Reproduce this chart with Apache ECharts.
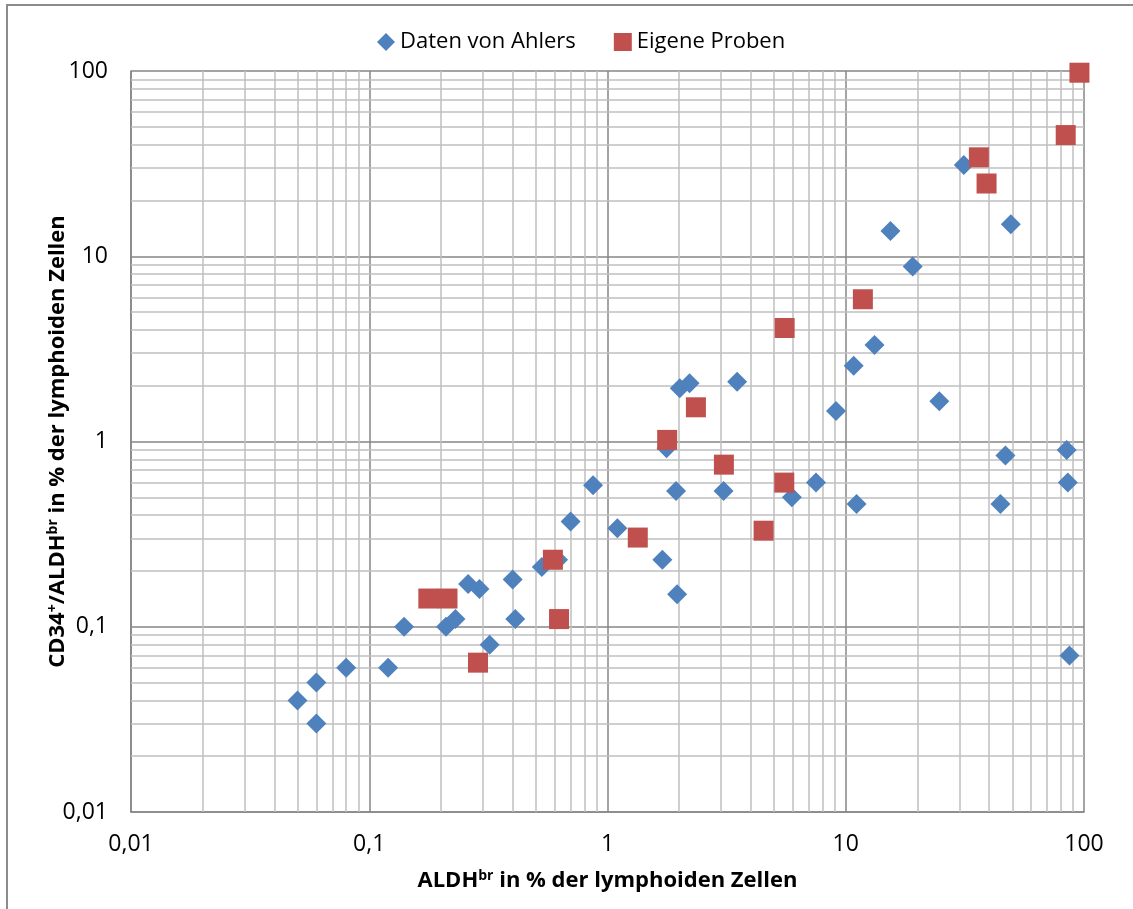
<!DOCTYPE html>
<html>
<head>
<meta charset="utf-8">
<script src="https://cdn.jsdelivr.net/npm/echarts@6/dist/echarts.min.js"></script>
<style>
  html, body { margin: 0; padding: 0; background: #fff; }
  #chart { width: 1133px; height: 909px; }
</style>
</head>
<body>
<div id="chart"></div>
<script>
// Daten von Ahlers: [ALDHbr %, CD34+/ALDHbr %]
var ahlers = [
  [0.05, 0.04], [0.06, 0.05], [0.06, 0.03], [0.08, 0.06], [0.12, 0.06],
  [0.14, 0.1], [0.21, 0.1], [0.23, 0.11], [0.26, 0.17], [0.29, 0.16],
  [0.4, 0.18], [0.41, 0.11], [0.32, 0.08], [0.53, 0.21], [0.62, 0.23],
  [0.7, 0.37], [0.87, 0.58], [1.1, 0.34], [1.7, 0.23], [1.96, 0.15],
  [1.94, 0.54], [3.07, 0.54], [1.77, 0.92], [2.01, 1.94], [2.21, 2.06],
  [3.5, 2.1], [5.94, 0.5], [7.5, 0.6], [11.1, 0.46], [9.1, 1.46],
  [10.8, 2.56], [13.2, 3.32], [15.4, 13.7], [19.1, 8.8], [31.3, 31.1],
  [49.3, 14.9], [24.7, 1.65], [46.8, 0.84], [44.6, 0.46], [84.6, 0.9],
  [85.5, 0.6], [86.9, 0.07]
];

// Eigene Proben
var eigene = [
  [0.177, 0.142], [0.213, 0.142], [0.286, 0.064], [0.59, 0.23], [0.626, 0.11],
  [1.34, 0.303], [1.78, 1.02], [2.35, 1.53], [3.08, 0.75], [4.52, 0.33],
  [5.52, 0.6], [5.54, 4.1], [11.8, 5.86], [36.2, 34.2], [39, 24.7],
  [83.8, 45.1], [95.7, 97.9]
];

var decades = [0.01, 0.1, 1, 10];
var minorSteps = [2, 3, 4, 5, 6, 7, 8, 9];

var FONT = '"Open Sans", "Noto Sans", sans-serif';

// minor grid lines at 2..9 of each decade
var minorLines = [];
decades.forEach(function (d) {
  minorSteps.forEach(function (m) {
    var v = parseFloat((d * m).toPrecision(3));
    minorLines.push({ xAxis: v });
    minorLines.push({ yAxis: v });
  });
});

function fmt(v) {
  return String(parseFloat(Number(v).toPrecision(3))).replace('.', ',');
}

var titleStyle = {
  fontFamily: FONT, fontSize: 22, fontWeight: 'bold', color: '#000',
  rich: {
    sup: { fontFamily: FONT, fontSize: 14, fontWeight: 'bold', color: '#000', verticalAlign: 'top', padding: [0, 0, 9, 0] }
  }
};

var chart = echarts.init(document.getElementById('chart'));

var option = {
  backgroundColor: '#fff',
  animation: false,
  textStyle: { fontFamily: FONT },
  graphic: [
    {
      type: 'polyline',
      shape: { points: [[7, 909], [7, 5], [1133, 5]] },
      style: { stroke: '#8c8c8c', lineWidth: 2, fill: null },
      silent: true
    }
  ],
  legend: {
    left: 372,
    top: 26,
    itemWidth: 18,
    itemHeight: 18,
    itemGap: 38,
    textStyle: { fontFamily: FONT, fontSize: 22, color: '#000' },
    data: [
      { name: 'Daten von Ahlers', icon: 'diamond' },
      { name: 'Eigene Proben', icon: 'rect' }
    ]
  },
  grid: { left: 131, right: 49, top: 71, bottom: 97 },
  xAxis: {
    type: 'log',
    logBase: 10,
    min: 0.01,
    max: 100,
    interval: 1,
    name: 'ALDH{sup|br} in % der lymphoiden Zellen',
    nameLocation: 'middle',
    nameGap: 57,
    nameMoveOverlap: false,
    nameTextStyle: titleStyle,
    axisLine: { lineStyle: { color: '#868686', width: 1.5 } },
    axisTick: { show: false },
    axisLabel: { fontSize: 23, color: '#000', margin: 21, formatter: fmt },
    splitLine: { show: true, lineStyle: { color: '#868686', width: 1.5 } }
  },
  yAxis: {
    type: 'log',
    logBase: 10,
    min: 0.01,
    max: 100,
    interval: 1,
    name: 'CD34{sup|+}/ALDH{sup|br} in % der lymphoiden Zellen',
    nameLocation: 'middle',
    nameRotate: 90,
    nameGap: 62,
    nameMoveOverlap: false,
    nameTextStyle: titleStyle,
    axisLine: { show: true, lineStyle: { color: '#868686', width: 1.5 } },
    axisTick: { show: false },
    axisLabel: { fontSize: 23, color: '#000', margin: 23, formatter: fmt },
    splitLine: { show: true, lineStyle: { color: '#868686', width: 1.5 } }
  },
  series: [
    {
      name: 'minor-grid',
      type: 'line',
      data: [],
      silent: true,
      z: 1,
      markLine: {
        silent: true,
        z: 1,
        symbol: ['none', 'none'],
        label: { show: false },
        lineStyle: { color: '#bfbfbf', width: 1.5, type: 'solid' },
        emphasis: { disabled: true },
        data: minorLines
      }
    },
    {
      name: 'Daten von Ahlers',
      type: 'scatter',
      symbol: 'diamond',
      symbolSize: 20,
      z: 10,
      itemStyle: { color: '#4f81bd', opacity: 1 },
      data: ahlers
    },
    {
      name: 'Eigene Proben',
      type: 'scatter',
      symbol: 'rect',
      symbolSize: 20,
      z: 11,
      itemStyle: { color: '#c0504d', opacity: 1 },
      data: eigene
    }
  ]
};

chart.setOption(option);
window.addEventListener('resize', chart.resize);
</script>
</body>
</html>
